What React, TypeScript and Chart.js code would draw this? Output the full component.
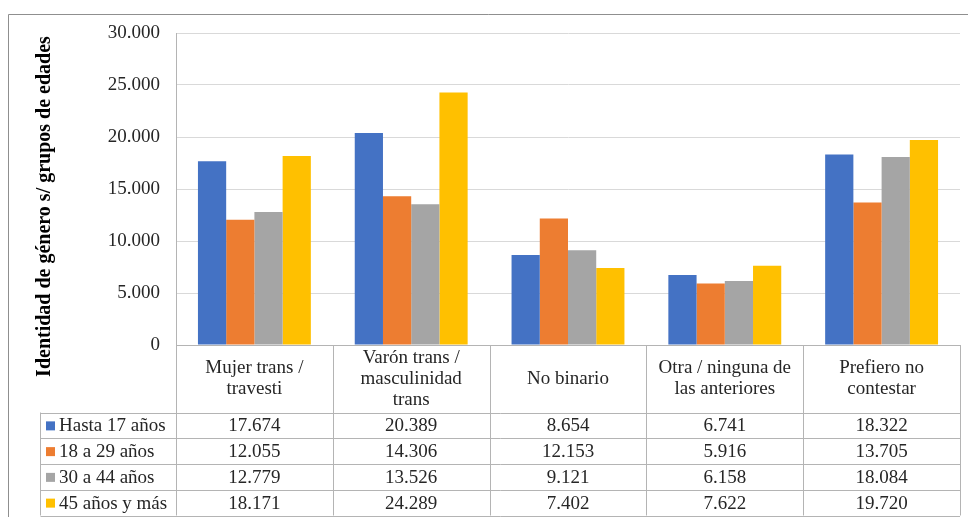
import React, { useEffect, useRef } from "react";
import { Chart, registerables } from "chart.js";

Chart.register(...registerables);

const categories: string[][] = [
  ["Mujer trans /", "travesti"],
  ["Varón trans /", "masculinidad", "trans"],
  ["No binario"],
  ["Otra / ninguna de", "las anteriores"],
  ["Prefiero no", "contestar"],
];
const seriesNames = ["Hasta 17 años", "18 a 29 años", "30 a 44 años", "45 años y más"];
const hasta17 = [17674, 20389, 8654, 6741, 18322];
const de18a29 = [12055, 14306, 12153, 5916, 13705];
const de30a44 = [12779, 13526, 9121, 6158, 18084];
const de45ymas = [18171, 24289, 7402, 7622, 19720];
const colors = ["#4472C4", "#ED7D31", "#A5A5A5", "#FFC000"];
const yTitle = "Identidad de género s/ grupos de edades";

const fmt = (v: number) => String(Math.round(v)).replace(/\B(?=(\d{3})+(?!\d))/g, ".");

const FONT = "'Liberation Serif', 'Times New Roman', serif";
const TEXT = "#262626";
const LINE = "#b4b4b4";
const FS = 19;

const tablePlugin = {
  id: "dataTable",
  afterDraw(chart: any) {
    const ctx = chart.ctx as CanvasRenderingContext2D;
    const area = chart.chartArea;
    const xs = chart.scales.x;
    const n = categories.length;
    const colW = (area.right - area.left) / n;
    const top = area.bottom;
    const headerBottom = 412.5;
    const rowH = 25.75;
    const tableLeft = 40.5;
    const tableBottom = headerBottom + rowH * 4;
    const all = [hasta17, de18a29, de30a44, de45ymas];

    ctx.save();
    // outer frame
    ctx.strokeStyle = "#8f8f8f";
    ctx.lineWidth = 1;
    ctx.beginPath();
    ctx.moveTo(8.5, 517);
    ctx.lineTo(8.5, 14.5);
    ctx.lineTo(968, 14.5);
    ctx.stroke();

    // table lines
    ctx.strokeStyle = LINE;
    ctx.beginPath();
    ctx.moveTo(area.left, Math.round(top) + 0.5);
    ctx.lineTo(area.right, Math.round(top) + 0.5);
    for (let i = 0; i <= n; i++) {
      const x = Math.round(area.left + i * colW) + 0.5;
      ctx.moveTo(x, top);
      ctx.lineTo(x, tableBottom);
    }
    for (let r = 0; r <= 4; r++) {
      const y = Math.round(headerBottom + r * rowH) + 0.5;
      ctx.moveTo(tableLeft, y);
      ctx.lineTo(area.right, y);
    }
    ctx.moveTo(tableLeft, headerBottom);
    ctx.lineTo(tableLeft, tableBottom);
    ctx.stroke();

    // header labels
    ctx.fillStyle = TEXT;
    ctx.font = `${FS}px ${FONT}`;
    ctx.textAlign = "center";
    ctx.textBaseline = "middle";
    const hMid = (top + headerBottom) / 2;
    const lh = 21;
    categories.forEach((lines, i) => {
      const cx = xs.getPixelForValue(i);
      lines.forEach((t, k) => {
        const y = hMid + (k - (lines.length - 1) / 2) * lh;
        ctx.fillText(t, cx, y);
      });
    });

    // rows
    all.forEach((arr, r) => {
      const yMid = headerBottom + r * rowH + rowH / 2 + 1;
      ctx.fillStyle = colors[r];
      ctx.fillRect(46, yMid - 5, 9, 9);
      ctx.fillStyle = TEXT;
      ctx.textAlign = "left";
      ctx.fillText(seriesNames[r], 59, yMid);
      ctx.textAlign = "center";
      arr.forEach((v, i) => {
        ctx.fillText(fmt(v), xs.getPixelForValue(i), yMid);
      });
    });

    // y title
    ctx.save();
    ctx.translate(45, 206.5);
    ctx.rotate(-Math.PI / 2);
    ctx.font = `bold 20px ${FONT}`;
    ctx.fillStyle = "#000";
    ctx.textAlign = "center";
    ctx.textBaseline = "middle";
    ctx.fillText(yTitle, 0, 0);
    ctx.restore();

    ctx.restore();
  },
};

export default function App() {
  const ref = useRef<HTMLCanvasElement | null>(null);
  useEffect(() => {
    if (!ref.current) return;
    const chart = new Chart(ref.current, {
      type: "bar",
      data: {
        labels: categories.map((c) => c.join(" ")),
        datasets: [hasta17, de18a29, de30a44, de45ymas].map((d, i) => ({
          label: seriesNames[i],
          data: d,
          backgroundColor: colors[i],
          borderWidth: 0,
          barPercentage: 1,
          categoryPercentage: 0.72,
        })),
      },
      options: {
        responsive: false,
        animation: false,
        devicePixelRatio: 1,
        layout: { padding: { top: 33, right: 8, left: 0, bottom: 0 } },
        plugins: { legend: { display: false }, tooltip: { enabled: false }, title: { display: false } },
        scales: {
          x: {
            grid: { display: false },
            border: { display: false },
            ticks: { display: false },
            afterFit: (s: any) => {
              s.height = 172;
            },
          },
          y: {
            min: 0,
            max: 30000,
            ticks: {
              stepSize: 5000,
              padding: 16,
              color: TEXT,
              font: { family: FONT, size: FS },
              callback: (v: any) => fmt(Number(v)),
            },
            grid: { color: "#d9d9d9", drawTicks: false, lineWidth: 1 },
            border: { display: true, color: LINE },
            afterFit: (s: any) => {
              s.width = 176;
            },
          },
        },
      },
      plugins: [tablePlugin],
    });
    return () => chart.destroy();
  }, []);
  return (
    <div style={{ position: "absolute", left: 0, top: 0, width: 968, height: 517, background: "#fff" }}>
      <canvas ref={ref} width={968} height={517} />
    </div>
  );
}
